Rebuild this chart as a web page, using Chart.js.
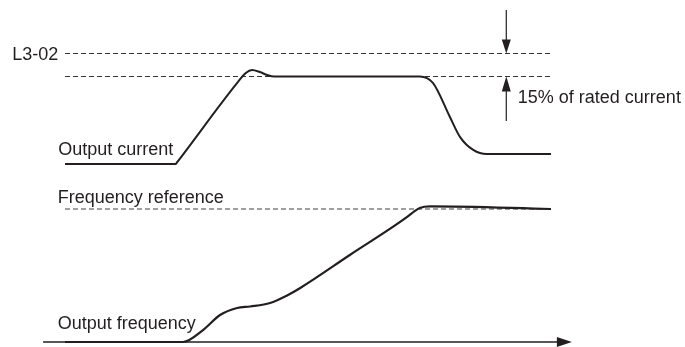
<!DOCTYPE html>
<html>
<head>
<meta charset="utf-8">
<script src="https://cdn.jsdelivr.net/npm/chart.js@4.4.1/dist/chart.umd.min.js"></script>
<style>
  html,body{margin:0;padding:0;background:#fff;}
  #wrap{width:685px;height:347px;position:relative;}
</style>
</head>
<body>
<div id="wrap"><canvas id="chart"></canvas></div>
<script>
// ----- data (time in arbitrary units 0..100) -----
const L3_02 = 150;            // stall prevention level, % of rated current
const HYST = 15;              // 15% of rated current
const FREQ_REF = 100;         // frequency reference, %

const currentT = [0, 22.8, 23.0, 35.6, 37.2, 38.5, 40.1, 41.6, 43.0, 73.0, 75.7, 79.2, 81.3, 84.0, 86.8, 100];
const currentV = [78, 78, 78.8, 131.5, 137.3, 139.2, 137.9, 136, 135, 135, 130.8, 108.6, 95.5, 87.1, 84.4, 84.4];

const freqT = [0, 24.3, 28.4, 31.9, 35.4, 38.1, 42.2, 45.7, 48.4, 58.6, 70.4, 71.8, 73.0, 75.1, 100];
const freqV = [0, 0, 9.0, 20.3, 25.6, 26.7, 29.3, 35.0, 40.6, 65.4, 94.0, 98.1, 100.8, 101.9, 100];

const labels = {
  l302: "L3-02",
  current: "Output current",
  hyst: "15% of rated current",
  fref: "Frequency reference",
  fout: "Output frequency"
};

// ----- layout helpers -----
const W = 685, H = 347;
// map two known values to pixel positions and get scale min/max for full canvas
function fitX(v1,p1,v2,p2){ const per=(p2-p1)/(v2-v1); const min=v1-p1/per; return {min, max:min+W/per}; }
function fitY(v1,p1,v2,p2){ const per=(p2-p1)/(v1-v2); const max=v1+p1/per; return {min:max-H/per, max}; }
const xr  = fitX(0, 65, 100, 551);
const yIr = fitY(L3_02, 53.5, L3_02-HYST, 76.5);
const yFr = fitY(FREQ_REF, 209, 0, 342);

const pts = (t,v)=> t.map((x,i)=>({x, y:v[i]}));
const flat = (v)=> [{x:0,y:v},{x:100,y:v}];

const INK = "#231f20";
const FONT = '18px "Liberation Sans", Arial, sans-serif';

// ----- annotations: axis arrow, level arrows, text -----
const annotate = {
  id: "annotate",
  afterDatasetsDraw(chart){
    const {ctx} = chart;
    const x = chart.scales.x, yI = chart.scales.yI, yF = chart.scales.yF;
    ctx.save();
    ctx.strokeStyle = INK; ctx.fillStyle = INK;

    // time axis with arrow
    const ay = yF.getPixelForValue(0);
    const ax0 = x.getPixelForValue(-4.5), ax1 = x.getPixelForValue(104.3);
    ctx.lineWidth = 1.3;
    ctx.beginPath(); ctx.moveTo(ax0, ay); ctx.lineTo(ax1-12, ay); ctx.stroke();
    ctx.beginPath(); ctx.moveTo(ax1, ay); ctx.lineTo(ax1-15, ay-5); ctx.lineTo(ax1-15, ay+5); ctx.closePath(); ctx.fill();

    // 15% arrows
    const mx = x.getPixelForValue(90.8);
    const yTop = yI.getPixelForValue(L3_02), yLow = yI.getPixelForValue(L3_02-HYST);
    ctx.lineWidth = 1.2;
    ctx.beginPath(); ctx.moveTo(mx, 10); ctx.lineTo(mx, yTop-12); ctx.stroke();
    ctx.beginPath(); ctx.moveTo(mx, yTop); ctx.lineTo(mx-4.5, yTop-14); ctx.lineTo(mx+4.5, yTop-14); ctx.closePath(); ctx.fill();
    ctx.beginPath(); ctx.moveTo(mx, yLow+12); ctx.lineTo(mx, yLow+44.5); ctx.stroke();
    ctx.beginPath(); ctx.moveTo(mx, yLow); ctx.lineTo(mx-4.5, yLow+15); ctx.lineTo(mx+4.5, yLow+15); ctx.closePath(); ctx.fill();

    // texts
    ctx.font = FONT; ctx.textBaseline = "alphabetic";
    ctx.textAlign = "right";
    ctx.fillText(labels.l302, x.getPixelForValue(-1.4), yTop+6.5);
    ctx.textAlign = "left";
    ctx.fillText(labels.current, x.getPixelForValue(-1.4), yI.getPixelForValue(currentV[0])-9);
    ctx.fillText(labels.hyst, mx+11.5, yLow+26);
    ctx.fillText(labels.fref, x.getPixelForValue(-1.5), yF.getPixelForValue(FREQ_REF)-5.7);
    ctx.fillText(labels.fout, x.getPixelForValue(-1.5), ay-12.7);
    ctx.restore();
  }
};

new Chart(document.getElementById("chart"), {
  type: "line",
  data: {
    datasets: [
      { label: labels.current, data: pts(currentT, currentV), yAxisID: "yI",
        borderColor: INK, borderWidth: 2, cubicInterpolationMode: "monotone" },
      { label: labels.fout, data: pts(freqT, freqV), yAxisID: "yF",
        borderColor: INK, borderWidth: 2.2, cubicInterpolationMode: "monotone" },
      { label: labels.l302, data: flat(L3_02), yAxisID: "yI",
        borderColor: "#333", borderWidth: 1, borderDash: [5,3] },
      { label: "L3-02 - 15%", data: flat(L3_02-HYST), yAxisID: "yI",
        borderColor: "#333", borderWidth: 1, borderDash: [5,3] },
      { label: labels.fref, data: flat(FREQ_REF), yAxisID: "yF",
        borderColor: "#808080", borderWidth: 1.5, borderDash: [5,3] }
    ]
  },
  options: {
    responsive: true, maintainAspectRatio: false, animation: false,
    layout: { padding: 0 },
    elements: { point: { radius: 0 } },
    plugins: { legend: { display: false }, tooltip: { enabled: false } },
    scales: {
      x:  { type: "linear", display: false, min: xr.min,  max: xr.max },
      yI: { type: "linear", display: false, min: yIr.min, max: yIr.max },
      yF: { type: "linear", display: false, min: yFr.min, max: yFr.max }
    }
  },
  plugins: [annotate]
});
</script>
</body>
</html>
